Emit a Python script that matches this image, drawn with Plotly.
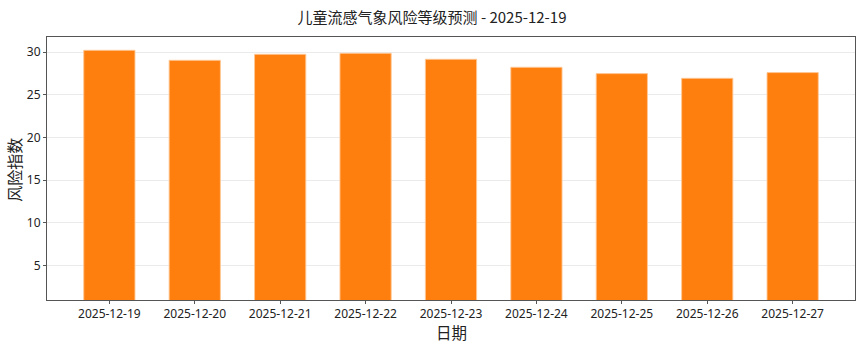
import plotly.graph_objects as go

dates = ["2025-12-19", "2025-12-20", "2025-12-21", "2025-12-22", "2025-12-23",
         "2025-12-24", "2025-12-25", "2025-12-26", "2025-12-27"]
risk_index = [30.2, 29.03, 29.73, 29.85, 29.15, 28.21, 27.47, 26.92, 27.59]
y_ticks = [5, 10, 15, 20, 25, 30]

FONT = "Noto Sans CJK SC"
TICKFONT = "Noto Sans"

fig = go.Figure(go.Bar(
    x=list(range(len(dates))), y=risk_index, width=0.6,
    marker=dict(color="#ff7f0e", line=dict(color="rgba(255,200,150,0.9)", width=1)),
))

fig.update_layout(
    width=864, height=346,
    margin=dict(l=47, r=9, t=37, b=46),
    plot_bgcolor="white", paper_bgcolor="white",
    title=dict(text="儿童流感气象风险等级预测 - 2025-12-19", x=0.5, xanchor="center",
               y=0.95, yanchor="middle", font=dict(family=FONT, size=15, color="#222")),
    font=dict(family=FONT, size=12, color="#222"),
    showlegend=False,
    bargap=0.4,
    annotations=[
        dict(text="日期", xref="paper", yref="paper", x=0.5, y=-0.1217,
             xanchor="center", yanchor="middle", showarrow=False, borderpad=0,
             font=dict(family=FONT, size=15.5, color="#222")),
        dict(text="风险指数", xref="paper", yref="paper", x=-0.041, y=0.495,
             xanchor="center", yanchor="middle", showarrow=False, textangle=-90,
             borderpad=0, font=dict(family=FONT, size=16, color="#222")),
    ],
)
fig.update_xaxes(
    tickmode="array", tickvals=list(range(len(dates))), ticktext=dates,
    range=[-0.73, 8.73], showgrid=False, showline=True, linecolor="#555", linewidth=1,
    mirror=True, ticks="outside", ticklen=3, tickcolor="#555",
    tickfont=dict(family=TICKFONT, size=12, color="#222"),
)
fig.update_yaxes(
    tickmode="array", tickvals=y_ticks, range=[0.94, 31.76],
    showgrid=True, gridcolor="#ebebeb", gridwidth=1, zeroline=False,
    showline=True, linecolor="#555", linewidth=1, mirror=True,
    ticks="outside", ticklen=3, tickcolor="#555",
    tickfont=dict(family=TICKFONT, size=12, color="#222"),
)

fig.write_html("out.html")
